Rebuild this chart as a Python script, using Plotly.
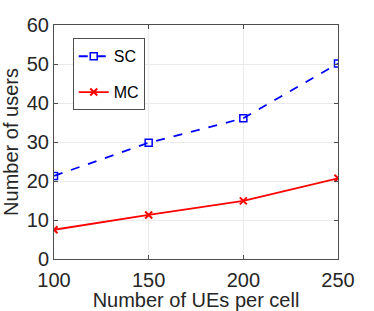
import plotly.graph_objects as go

ues = [100, 150, 200, 250]
sc_users = [21.3, 29.8, 36.1, 50.1]
mc_users = [7.5, 11.3, 14.9, 20.7]
x_ticks = [100, 150, 200, 250]
y_ticks = [0, 10, 20, 30, 40, 50, 60]

fig = go.Figure()
fig.add_trace(go.Scatter(
    x=ues, y=sc_users, name="SC", mode="lines+markers",
    line=dict(color="#0000ff", width=1.8, dash="dash"),
    marker=dict(symbol="square-open", size=7, color="#0000ff", line=dict(width=1.5)),
    legendgroup="a"))
fig.add_trace(go.Scatter(
    x=ues, y=mc_users, name="MC", mode="lines+markers",
    line=dict(color="#ff0000", width=1.8),
    marker=dict(symbol="x-thin-open", size=7, color="#ff0000", line=dict(width=2, color="#ff0000")),
    legendgroup="b"))

axis_common = dict(
    showline=True, linecolor="#4d4d4d", linewidth=1, mirror="ticks",
    ticks="inside", ticklen=4, tickcolor="#4d4d4d",
    showgrid=True, gridcolor="#ebebeb", gridwidth=1, zeroline=False,
    tickfont=dict(size=20, color="#262626"), automargin=False,
)
fig.update_xaxes(range=[100, 250], tickvals=x_ticks,
                 title=dict(text="Number of UEs per cell", font=dict(size=20, color="#262626"), standoff=2),
                 ticklabelstandoff=3,
                 **axis_common)
fig.update_yaxes(range=[0, 60], tickvals=y_ticks,
                 title=dict(text="Number of users", font=dict(size=20, color="#262626"), standoff=2),
                 **axis_common)

fig.update_layout(
    width=374, height=311,
    margin=dict(l=54, r=36, t=25, b=52),
    paper_bgcolor="white", plot_bgcolor="white",
    font=dict(family="Liberation Sans, Arial, sans-serif", color="#262626"),
    legend=dict(x=0.066, y=0.943, xanchor="left", yanchor="top",
                bgcolor="white", bordercolor="#4d4d4d", borderwidth=1,
                font=dict(size=16, color="black"), tracegroupgap=12,
                itemwidth=30),
    showlegend=True,
)

fig.write_html("out.html", config={"displayModeBar": False},
               post_script="document.body.style.margin='0px';document.body.style.padding='0px';")
